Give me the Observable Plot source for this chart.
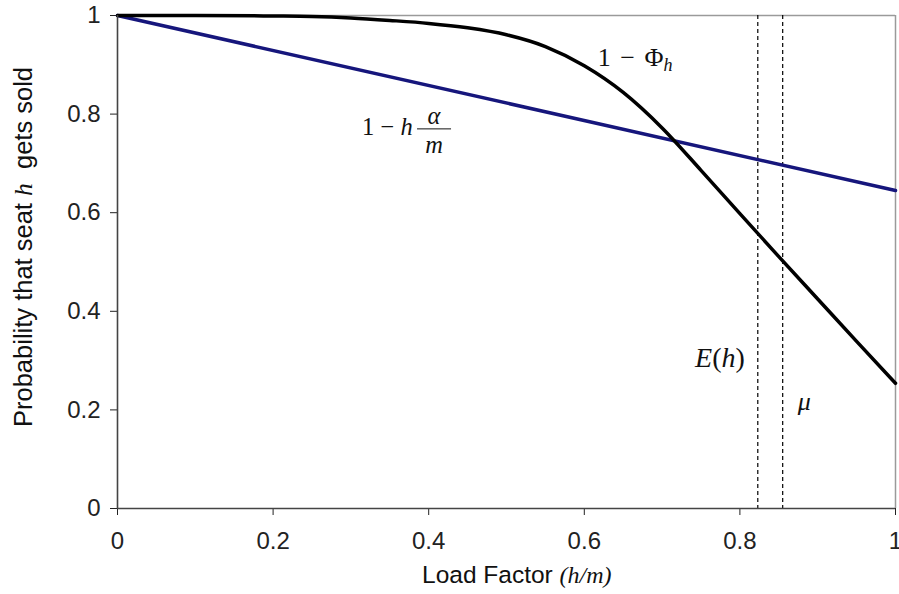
<!DOCTYPE html>
<html><head><meta charset="utf-8">
<script src="https://cdn.jsdelivr.net/npm/d3@7"></script>
<script src="https://cdn.jsdelivr.net/npm/@observablehq/plot@0.6"></script>
<style>html,body{margin:0;padding:0;background:#fff} svg{display:block}</style>
</head><body><div id="chart"></div>
<script>
// Data
const loadFactor = [0, 0.1, 0.2, 0.25, 0.3, 0.35, 0.4, 0.45, 0.5, 0.55, 0.6, 0.65, 0.7, 0.75, 0.8, 0.85, 0.9, 0.95, 1];
const probPhi    = [1.000, 1.000, 0.999, 0.998, 0.995, 0.990, 0.984, 0.975, 0.961, 0.937, 0.898, 0.844, 0.772, 0.686, 0.598, 0.511, 0.425, 0.339, 0.254];
const linearX    = [0, 1];
const probLinear = [1.000, 0.645];
const markers    = [0.823, 0.855];          // E(h), mu
const tickValues = [0, 0.2, 0.4, 0.6, 0.8, 1];
// annotation anchors in data units
const labelPhi   = {x: 0.618, y: 0.897};
const labelLin   = {x: 0.315, y: 0.757, fx: 0.4075, fy: 0.769, ay: 0.779, my: 0.720};
const labelEh    = {x: 0.743, y: 0.286};
const labelMu    = {x: 0.875, y: 0.199};

const phiData = loadFactor.map((x, i) => ({x, y: probPhi[i]}));
const linData = linearX.map((x, i) => ({x, y: probLinear[i]}));

const sans = "'Liberation Sans', Arial, Helvetica, sans-serif";
const serif = "'Liberation Serif', 'Times New Roman', serif";

const chart = Plot.plot({
  width: 899, height: 594,
  marginLeft: 117, marginRight: 4, marginTop: 15, marginBottom: 86,
  style: {fontFamily: sans, fontSize: "24px", color: "#222", background: "#fff", overflow: "visible"},
  x: {domain: [0, 1], ticks: tickValues, tickFormat: d => String(d), tickSize: 7, tickPadding: 16, label: null},
  y: {domain: [0, 1], ticks: tickValues, tickFormat: d => String(d), tickSize: 7, tickPadding: 10, label: null},
  marks: [
    Plot.ruleY([1], {stroke: "#9a9a9a", strokeWidth: 1.5}),
    Plot.ruleX([1], {stroke: "#9a9a9a", strokeWidth: 1.5}),
    Plot.ruleX(markers, {stroke: "#000", strokeWidth: 1.2, strokeDasharray: "4,3"}),
    Plot.line(linData, {x: "x", y: "y", stroke: "#16167c", strokeWidth: 3.5}),
    Plot.line(phiData, {x: "x", y: "y", curve: "monotone-x", stroke: "#000", strokeWidth: 3.5}),
    Plot.ruleY([0], {stroke: "#444", strokeWidth: 1.6}),
    Plot.ruleX([0], {stroke: "#444", strokeWidth: 1.6})
  ]
});
document.getElementById("chart").append(chart);

const sx = chart.scale("x").apply, sy = chart.scale("y").apply;
const svg = d3.select(chart);
const g = svg.append("g").attr("font-family", serif).attr("fill", "#111")
  .attr("font-size", 26).attr("text-anchor", "start");

// 1 − Φ_h
const t1 = g.append("text").attr("x", sx(labelPhi.x)).attr("y", sy(labelPhi.y)).attr("word-spacing", 3);
t1.append("tspan").text("1 − Φ");
t1.append("tspan").attr("font-style", "italic").attr("font-size", 18).attr("dy", 5).text("h");

// 1 − h α/m
const t2 = g.append("text").attr("x", sx(labelLin.x)).attr("y", sy(labelLin.y)).attr("font-size", 24.5);
t2.append("tspan").text("1 − ");
t2.append("tspan").attr("font-style", "italic").text("h");
g.append("line").attr("x1", sx(labelLin.fx) - 17).attr("x2", sx(labelLin.fx) + 17)
  .attr("y1", sy(labelLin.fy)).attr("y2", sy(labelLin.fy)).attr("stroke", "#111").attr("stroke-width", 1);
g.append("text").attr("x", sx(labelLin.fx)).attr("y", sy(labelLin.ay)).attr("text-anchor", "middle")
  .attr("font-style", "italic").attr("font-size", 24.5).text("α");
g.append("text").attr("x", sx(labelLin.fx)).attr("y", sy(labelLin.my)).attr("text-anchor", "middle")
  .attr("font-style", "italic").attr("font-size", 24.5).text("m");

// E(h)
const t3 = g.append("text").attr("x", sx(labelEh.x)).attr("y", sy(labelEh.y)).attr("font-size", 28);
t3.append("tspan").attr("font-style", "italic").text("E");
t3.append("tspan").text("(");
t3.append("tspan").attr("font-style", "italic").text("h");
t3.append("tspan").text(")");

// mu
g.append("text").attr("x", sx(labelMu.x)).attr("y", sy(labelMu.y)).attr("font-style", "italic").text("μ");

// axis labels
const yl = svg.append("text").attr("transform", "translate(32,247) rotate(-90)")
  .attr("text-anchor", "middle").attr("font-family", sans).attr("font-size", 25.5).attr("fill", "#111");
yl.append("tspan").text("Probability that seat ");
yl.append("tspan").attr("font-family", serif).attr("font-style", "italic").text("h");
yl.append("tspan").text("  gets sold");

const xl = svg.append("text").attr("x", 422).attr("y", 583).attr("text-anchor", "start")
  .attr("font-family", sans).attr("font-size", 24.5).attr("fill", "#111");
xl.append("tspan").text("Load Factor ");
xl.append("tspan").attr("font-family", serif).attr("font-style", "italic").attr("font-size", 24).text("(h/m)");
</script></body></html>
